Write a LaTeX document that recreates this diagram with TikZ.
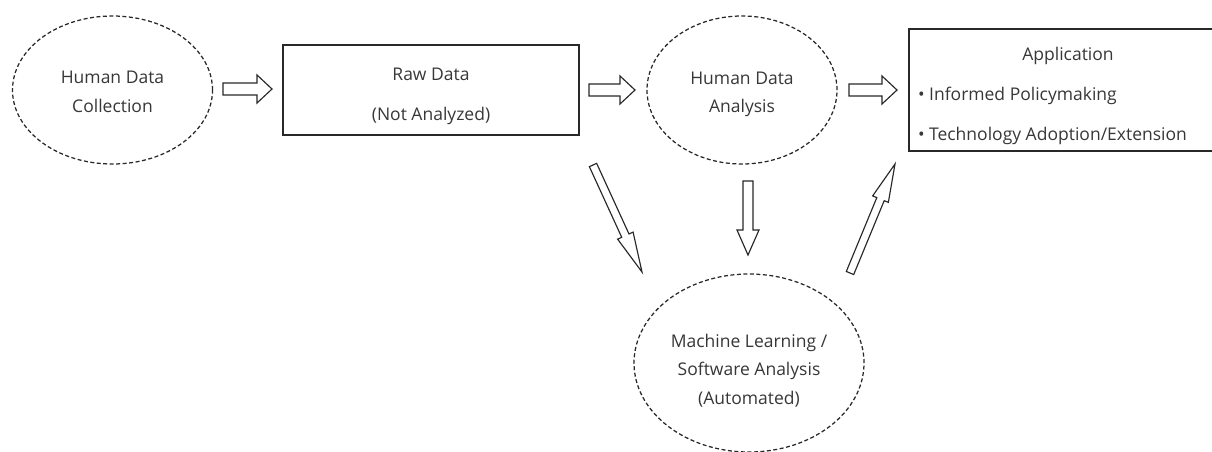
\documentclass[tikz,border=0pt]{standalone}
\usepackage{fontspec}
\setmainfont{Open Sans}
\usetikzlibrary{calc,shapes.geometric}
\definecolor{ink}{RGB}{55,55,55}
\definecolor{edge}{RGB}{40,40,40}

% Hollow block arrow from tail #1 to tip #2:
% #3 half shaft width, #4 half head width, #5 head length
\newcommand\hollowarrow[5]{%
  \coordinate (hb) at ($(#2)!#5!(#1)$);
  \draw[blockarrow]
    ($(#1)!#3!90:(#2)$) -- ($(hb)!#3!-90:(#1)$) -- ($(hb)!#4!-90:(#1)$)
    -- (#2)
    -- ($(hb)!#4!90:(#1)$) -- ($(hb)!#3!90:(#1)$) -- ($(#1)!#3!-90:(#2)$) -- cycle;
}
% Lines of text set in a column, lowered by #1 inside the node
\newcommand\textblock[3]{%
  \raisebox{-#1}[\height][\depth]{\begin{tabular}{@{}#2@{}}#3\end{tabular}}}

\begin{document}
\begin{tikzpicture}[x=1pt,y=-1pt,
  every node/.style={text=ink, font=\fontsize{17.5}{28.5}\selectfont},
  cloud/.style={ellipse, draw=edge, dash pattern=on 4pt off 2.5pt,
    line width=1.25pt, inner sep=0pt},
  stagebox/.style={rectangle, draw=edge, line width=1.5pt, inner sep=0pt},
  blockarrow/.style={draw=edge, line width=1.15pt, fill=white, line join=miter}]

\useasboundingbox (0,0) rectangle (1212,451);

% stages
\node[cloud, minimum width=200pt, minimum height=148pt] (hdc) at (112.5,90)
  {\textblock{2.5pt}{c}{Human Data\\Collection}};
\node[stagebox, minimum width=296pt, minimum height=90pt] (raw) at (431,90)
  {\textblock{5pt}{c}{Raw Data\\[11pt](Not Analyzed)}};
\node[cloud, minimum width=190pt, minimum height=148pt] (hda) at (742,90)
  {\textblock{3pt}{c}{Human Data\\Analysis}};
\node[stagebox, minimum width=318pt, minimum height=122pt] (app) at (1068,90)
  {\textblock{5pt}{l}{\makebox[300pt]{Application}\\[11.5pt]• Informed Policymaking\\[11.5pt]• Technology Adoption/Extension}};
\node[cloud, minimum width=230pt, minimum height=178pt] (ml) at (749,363)
  {\textblock{7pt}{c}{Machine Learning /\\Software Analysis\\(Automated)}};

% arrow ends
\coordinate (hdc-out) at (223,89);   \coordinate (raw-in) at (272,89);
\coordinate (raw-out) at (589,90);   \coordinate (hda-in) at (635,90);
\coordinate (hda-out) at (849,90);   \coordinate (app-in) at (897,90);
\coordinate (raw-down) at (593,165); \coordinate (ml-in1) at (642,272);
\coordinate (hda-down) at (748,181); \coordinate (ml-in2) at (748,255);
\coordinate (ml-out) at (850,273);   \coordinate (app-up) at (895,164);

% connectors
\hollowarrow{hdc-out}{raw-in}{6pt}{14pt}{15pt}
\hollowarrow{raw-out}{hda-in}{6pt}{14pt}{15pt}
\hollowarrow{hda-out}{app-in}{6pt}{14pt}{15pt}
\hollowarrow{raw-down}{ml-in1}{4pt}{8.5pt}{40pt}
\hollowarrow{hda-down}{ml-in2}{5pt}{11pt}{25pt}
\hollowarrow{ml-out}{app-up}{4pt}{8.5pt}{38pt}
\end{tikzpicture}
\end{document}
